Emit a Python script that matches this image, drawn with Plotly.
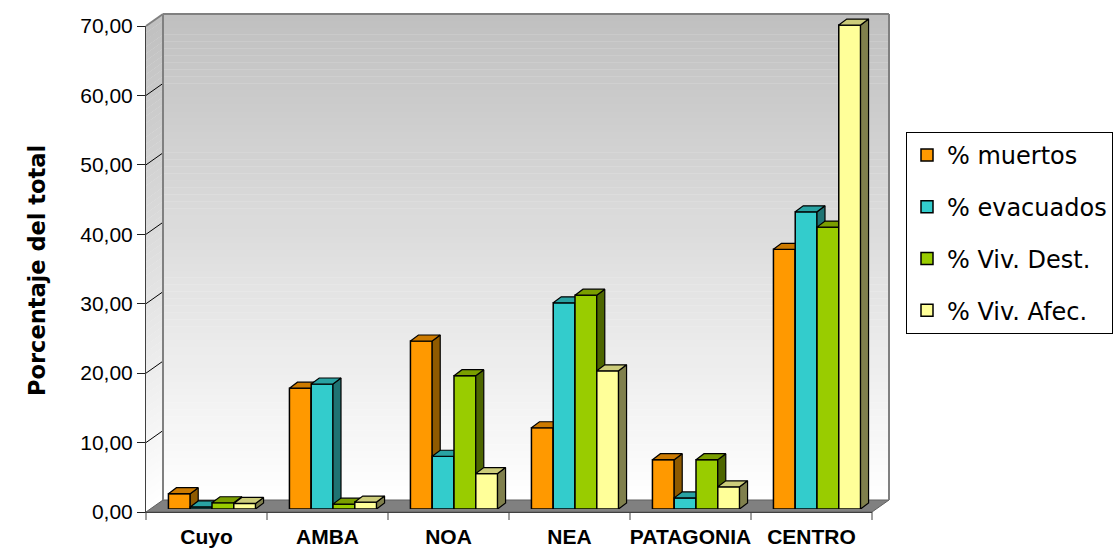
import plotly.graph_objects as go

# ---- data -------------------------------------------------------------
categorias = ["Cuyo", "AMBA", "NOA", "NEA", "PATAGONIA", "CENTRO"]
muertos = [2.2, 17.4, 24.2, 11.7, 7.1, 37.4]
evacuados = [0.3, 18.0, 7.6, 29.7, 1.6, 42.8]
viv_dest = [0.9, 0.7, 19.2, 30.8, 7.1, 40.6]
viv_afec = [0.8, 1.0, 5.1, 19.9, 3.2, 69.7]
nombres = ["% muertos", "% evacuados", "% Viv. Dest.", "% Viv. Afec."]
y_ticks = [0, 10, 20, 30, 40, 50, 60, 70]

series = [muertos, evacuados, viv_dest, viv_afec]
# front, side and top face colours of each series
caras = [
    ("#FF9900", "#8F5A00", "#CC7A00"),
    ("#33CCCC", "#1F7373", "#29A3A3"),
    ("#99CC00", "#4D6600", "#7A9E00"),
    ("#FFFF99", "#80804D", "#CCCC7A"),
]

# ---- geometry (pixels of the 1116x550 canvas) -------------------------
W, H = 1116, 550
FONT = "Liberation Sans, Arial, sans-serif"
FONT_WIDE = "DejaVu Sans, Verdana, sans-serif"


def fx(px):
    return px / W


def fy(py):
    return 1 - py / H


FL, FR, FB, FT = 146, 872, 512, 26          # front plane of the axes box
DEP_X, DEP_Y = 17, -12                       # depth of the floor / side wall
BL, BR, BB, BT = FL + DEP_X, FR + DEP_X, FB + DEP_Y, FT + DEP_Y  # back wall
S = (FB - FT) / 70.0                         # pixels per percentage point

# bars stand in the middle of the floor depth
BAR_L, BAR_R, BAR_B = 151.5, 877.5, 509
BAR_YMAX = 72
slot = (BAR_R - BAR_L) / len(categorias)
w = 0.18                                     # bar width (category units)
left_off = -2 * w
dxu = 8 / slot                               # bar depth in category units
dyu = 6 / S                                  # bar depth in value units

fig = go.Figure()

# invisible anchor trace so the front axes are laid out
fig.add_trace(go.Scatter(x=[0], y=[0], mode="markers", marker=dict(opacity=0),
                         showlegend=False, hoverinfo="skip", xaxis="x", yaxis="y"))

for k, (vals, nombre, (c_front, c_side, c_top)) in enumerate(zip(series, nombres, caras)):
    xa, ya = f"x{3 + k}", f"y{3 + k}"
    fig.add_trace(go.Bar(
        x=list(range(len(categorias))), y=vals, width=w, offset=left_off + k * w,
        marker=dict(color=c_front, line=dict(color="black", width=1.5)),
        name=nombre, legendgroup=nombre, xaxis=xa, yaxis=ya,
    ))
    sx, sy, tx, ty = [], [], [], []
    for i, v in enumerate(vals):
        x0 = i + left_off + k * w
        x1 = x0 + w
        sx += [x1, x1 + dxu, x1 + dxu, x1, x1, None]
        sy += [0, dyu, v + dyu, v, 0, None]
        tx += [x0, x0 + dxu, x1 + dxu, x1, x0, None]
        ty += [v, v + dyu, v + dyu, v, v, None]
    for px_, py_, col in ((sx, sy, c_side), (tx, ty, c_top)):
        fig.add_trace(go.Scatter(
            x=px_, y=py_, mode="lines", fill="toself", fillcolor=col,
            line=dict(color="black", width=1.2), showlegend=False,
            hoverinfo="skip", xaxis=xa, yaxis=ya,
        ))

# ---- walls and floor --------------------------------------------------
shapes = []


def gris(t):
    g = int(round(192 + (255 - 192) * t))
    return f"rgb({g},{g},{g})"


n = 70
for j in range(n):
    v0, v1 = 70 * j / n, 70 * (j + 1) / n
    col = gris(1 - (v0 + v1) / 140)
    # back wall strip
    shapes.append(dict(type="rect", xref="paper", yref="paper", layer="below",
                       x0=fx(BL), x1=fx(BR), y0=fy(BB - v0 * S), y1=fy(BB - v1 * S) + 0.0005,
                       fillcolor=col, line=dict(width=0)))
    # side wall strip
    path = (f"M{fx(FL)},{fy(FB - v0 * S)} L{fx(FL)},{fy(FB - v1 * S) + 0.0005} "
            f"L{fx(BL)},{fy(BB - v1 * S) + 0.0005} L{fx(BL)},{fy(BB - v0 * S)} Z")
    shapes.append(dict(type="path", path=path, xref="paper", yref="paper", layer="below",
                       fillcolor=col, line=dict(width=0)))

# side wall gridlines
for v in y_ticks[1:-1]:
    shapes.append(dict(type="line", xref="paper", yref="paper", layer="below",
                       x0=fx(FL), y0=fy(FB - v * S), x1=fx(BL), y1=fy(BB - v * S),
                       line=dict(color="black", width=1)))

# floor
shapes.append(dict(type="path", xref="paper", yref="paper", layer="below",
                   path=f"M{fx(FL)},{fy(FB)} L{fx(FR)},{fy(FB)} L{fx(BR)},{fy(BB)} L{fx(BL)},{fy(BB)} Z",
                   fillcolor="#808080", line=dict(color="#606060", width=1)))

# wall edges
borde = dict(color="#808080", width=2)
for (x0, y0, x1, y1) in [(BL, BT, BR, BT), (BR, BT, BR, BB), (BL, BT, BL, BB), (FL, FT, BL, BT)]:
    shapes.append(dict(type="line", xref="paper", yref="paper", layer="below",
                       x0=fx(x0), y0=fy(y0), x1=fx(x1), y1=fy(y1), line=borde))

# tick marks at the category boundaries
for i in range(len(categorias) + 1):
    xb = FL + i * (FR - FL) / len(categorias)
    shapes.append(dict(type="line", xref="paper", yref="paper", layer="above",
                       x0=fx(xb), y0=fy(FB), x1=fx(xb), y1=fy(FB + 8),
                       line=dict(color="#404040", width=1)))

# ---- axes -------------------------------------------------------------
hidden = dict(visible=False)
layout_axes = dict(
    xaxis=dict(domain=[fx(FL), fx(FR)], range=[-0.5, 5.5], type="linear", anchor="y",
               tickmode="array", tickvals=list(range(len(categorias))), ticktext=categorias,
               ticks="outside", ticklen=6, tickcolor="rgba(0,0,0,0)",
               tickfont=dict(family=FONT, size=21, color="black", weight="bold"),
               showline=True, linecolor="#404040", linewidth=1, automargin=False,
               showgrid=False, zeroline=False, fixedrange=True),
    yaxis=dict(domain=[fy(FB), fy(FT)], range=[0, 70], type="linear", anchor="x",
               tickmode="array", tickvals=y_ticks, tickformat=".2f",
               ticks="outside", ticklen=8, tickcolor="#202020",
               tickfont=dict(family=FONT, size=21, color="black"),
               showline=True, linecolor="#404040", linewidth=1, automargin=False,
               showgrid=False, zeroline=False, fixedrange=True),
    xaxis2=dict(domain=[fx(BL), fx(BR)], range=[0, 1], anchor="y2",
                showgrid=False, zeroline=False, showticklabels=False, ticks="", showline=False),
    yaxis2=dict(domain=[fy(BB), fy(BT)], range=[0, 70], anchor="x2",
                tickmode="array", tickvals=y_ticks[1:-1], showgrid=True,
                gridcolor="black", gridwidth=1, zeroline=False,
                showticklabels=False, ticks="", showline=False),
    xaxis3=dict(domain=[fx(BAR_L), fx(BAR_R)], range=[-0.5, 5.5], anchor="y3", **hidden),
    yaxis3=dict(domain=[fy(BAR_B), fy(BAR_B - BAR_YMAX * S)], range=[0, BAR_YMAX],
                anchor="x3", **hidden),
)
for k in range(1, 4):
    layout_axes[f"xaxis{3 + k}"] = dict(overlaying="x3", range=[-0.5, 5.5], anchor=f"y{3 + k}", **hidden)
    layout_axes[f"yaxis{3 + k}"] = dict(overlaying="y3", range=[0, BAR_YMAX], anchor=f"x{3 + k}", **hidden)

fig.update_layout(
    width=W, height=H, margin=dict(l=0, r=0, t=0, b=0, autoexpand=False),
    paper_bgcolor="white", plot_bgcolor="rgba(0,0,0,0)",
    separators=",.", barmode="overlay", showlegend=True,
    font=dict(family=FONT, color="black"),
    shapes=shapes,
    legend=dict(x=fx(906), y=fy(132), xanchor="left", yanchor="top",
                bgcolor="white", bordercolor="black", borderwidth=1,
                font=dict(family=FONT_WIDE, size=24, color="black"),
                tracegroupgap=17.5, itemwidth=30, traceorder="grouped"),
    annotations=[dict(text="<b>Porcentaje del total</b>", xref="paper", yref="paper",
                      x=fx(22), y=fy(271), textangle=-90, showarrow=False,
                      font=dict(family=FONT_WIDE, size=22.5, color="black"))],
    **layout_axes,
)

fig.write_html("out.html")
